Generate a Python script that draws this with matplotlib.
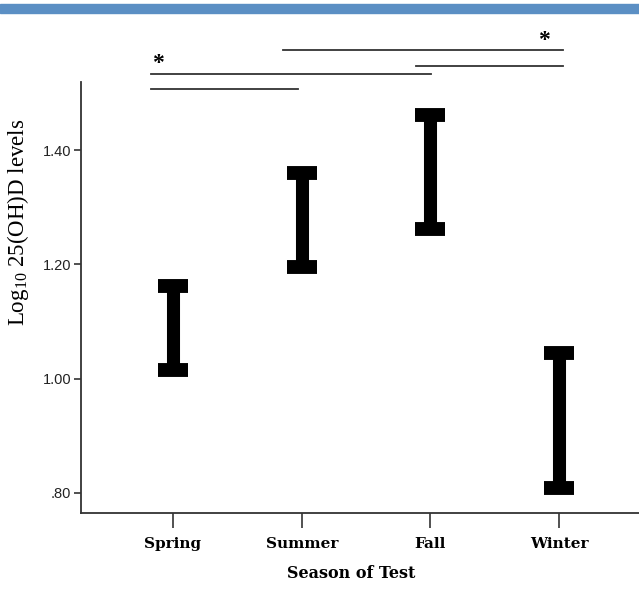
import matplotlib.pyplot as plt
from matplotlib.patches import Rectangle

plt.rcParams["mathtext.fontset"] = "custom"
plt.rcParams["mathtext.rm"] = "Liberation Serif"

## Data: 95% CI of log10 25(OH)D by season
seasons = ["Spring", "Summer", "Fall", "Winter"]
ci_low = [1.015, 1.195, 1.262, 0.809]
ci_high = [1.162, 1.360, 1.461, 1.045]
yticks = [0.80, 1.00, 1.20, 1.40]
ytick_labels = [".80", "1.00", "1.20", "1.40"]

## Significance brackets: (start, end, height) and star positions
brackets = [(0.855, 3.03, 1.575), (1.89, 3.03, 1.547),
            (-0.171, 2.005, 1.533), (-0.171, 0.971, 1.507)]
stars = [(-0.117, 1.551), (2.883, 1.592)]

x = list(range(len(seasons)))
mid = [(lo + hi) / 2 for lo, hi in zip(ci_low, ci_high)]
half = [(hi - lo) / 2 for lo, hi in zip(ci_low, ci_high)]

fig = plt.figure(figsize=(6.39, 5.89), dpi=100)
fig.patches.append(Rectangle((0, 1 - 13 / 589), 1, 9 / 589, transform=fig.transFigure,
                             color="#5b8fc4", zorder=0))

ax = fig.add_axes([81 / 639, 1 - 513 / 589, 1 - 81 / 639, (513 - 82) / 589])
ax.errorbar(x, mid, yerr=half, fmt="none", ecolor="black",
            elinewidth=9.4, capsize=10.8, capthick=10)

for x0, x1, y in brackets:
    ax.plot([x0, x1], [y, y], color="#333333", lw=1.3, clip_on=False)
for sx, sy in stars:
    ax.text(sx, sy, "*", ha="center", va="center", fontsize=17, fontweight="bold",
            family="Liberation Serif", clip_on=False)

ax.set_xlim(-0.715, 3.62)
ax.set_ylim(0.765, 1.519)
ax.set_xticks(x)
ax.set_xticklabels(seasons, family="DejaVu Serif", fontweight="bold", fontsize=11)
ax.set_yticks(yticks)
ax.set_yticklabels(ytick_labels, family="Liberation Sans", fontsize=10.5, color="#222222")
ax.tick_params(axis="x", length=11, width=1.2, color="#333333", pad=6)
ax.tick_params(axis="y", length=5, width=1.2, color="#333333", pad=2)

for s in ["top", "right"]:
    ax.spines[s].set_visible(False)
for s in ["left", "bottom"]:
    ax.spines[s].set_color("#333333")
    ax.spines[s].set_linewidth(1.3)

ax.set_xlabel("Season of Test", family="DejaVu Serif", fontweight="bold", fontsize=11.5)
ax.xaxis.set_label_coords(0.484, -0.12)
ax.set_ylabel(r"Log$_{\mathrm{10}}$ 25(OH)D levels", family="Liberation Serif",
              fontsize=16.5)
ax.yaxis.set_label_coords(-0.09, 0.675)

fig.savefig("out.png", dpi=100)
